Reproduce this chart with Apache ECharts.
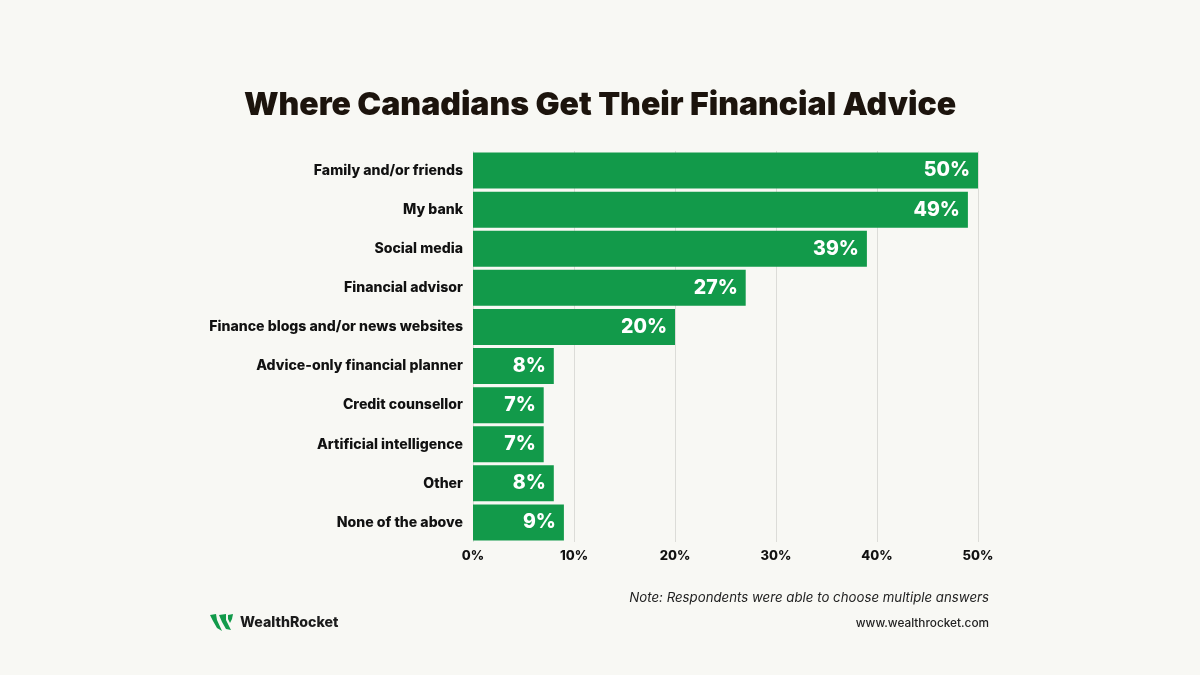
<!DOCTYPE html>
<html><head><meta charset="utf-8">
<style>html,body{margin:0;padding:0;background:#f8f8f4}#c{width:1200px;height:675px}</style>
<script src="https://cdn.jsdelivr.net/npm/echarts@6/dist/echarts.min.js"></script></head>
<body><div id="c"></div>
<script>
const categories = ["Family and/or friends","My bank","Social media","Financial advisor","Finance blogs and/or news websites","Advice-only financial planner","Credit counsellor","Artificial intelligence","Other","None of the above"];
const values = [50,49,39,27,20,8,7,7,8,9];
const titleText = "Where Canadians Get Their Financial Advice";
const noteText = "Note: Respondents were able to choose multiple answers";
const urlText = "www.wealthrocket.com";
const brandText = "WealthRocket";
const FONT = "Inter";
const chart = echarts.init(document.getElementById('c'), null, {renderer:'canvas'});
chart.setOption({
  animation:false,
  backgroundColor:'#f8f8f4',
  textStyle:{fontFamily:FONT},
  title:{text:titleText,left:'center',top:89,padding:0,textStyle:{fontFamily:FONT,fontSize:32,fontWeight:900,color:'#1c140d'}},
  grid:{left:473,right:222,top:151,bottom:133,containLabel:false},
  xAxis:{type:'value',min:0,max:50,interval:10,
    axisLine:{show:false},axisTick:{show:false},
    axisLabel:{formatter:'{value}%',fontFamily:FONT,fontSize:13,fontWeight:800,color:'#111',margin:8},
    splitLine:{show:true,lineStyle:{color:'#dcdcd8',width:1}}},
  yAxis:{type:'category',inverse:true,data:categories,
    axisLine:{show:false},axisTick:{show:false},
    axisLabel:{fontFamily:FONT,fontSize:14.1,fontWeight:800,color:'#111',margin:10}},
  series:[{type:'bar',data:values,barWidth:36,itemStyle:{color:'#129a4a'},
    label:{show:true,position:'insideRight',distance:8,formatter:'{c}%',fontFamily:FONT,fontSize:19.5,fontWeight:800,color:'#fff'}}],
  graphic:[
    {type:'text',x:989,y:592,style:{text:noteText,align:'right',fontFamily:FONT,fontSize:13.25,fontStyle:'italic',fill:'#222'}},
    {type:'text',x:989,y:617,style:{text:urlText,align:'right',fontFamily:FONT,fontSize:11.8,fontWeight:500,fill:'#222'}},
    {type:'text',x:240,y:616,style:{text:brandText,fontFamily:FONT,fontSize:14.2,fontWeight:800,fill:'#1c1c1c'}},
    {type:'polygon',shape:{points:[[210,615],[216,614],[217,620],[222,631],[217,628],[213,621]]},style:{fill:'#129a4a'}},
    {type:'polygon',shape:{points:[[219,615],[226,614],[226,620],[231,630],[226,629],[222,622]]},style:{fill:'#129a4a'}},
    {type:'polygon',shape:{points:[[228,615],[233,614],[232,619],[230,623],[228,619]]},style:{fill:'#129a4a'}}
  ]
});
</script></body></html>
